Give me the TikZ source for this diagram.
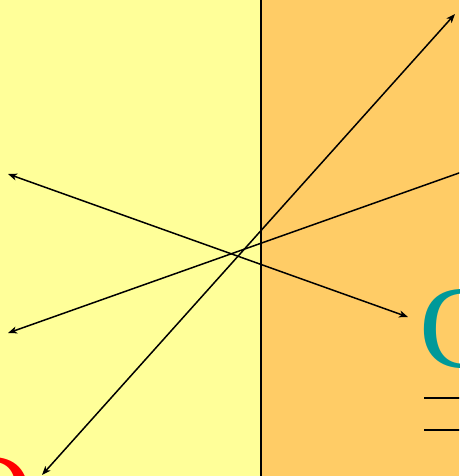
\documentclass[tikz,border=0pt]{standalone}
\usepackage{fontspec}
\setmainfont{Liberation Serif}
\usetikzlibrary{arrows.meta}
\definecolor{lyellow}{RGB}{255,255,153}
\definecolor{lorange}{RGB}{255,204,102}
\definecolor{teal2}{RGB}{0,153,153}
\begin{document}
\begin{tikzpicture}[x=1pt,y=-1pt,
  tip/.tip={Stealth[length=9pt,width=7pt,inset=2.5pt]},
  arr/.style={line width=1.5pt,tip-tip},
  plain/.style={line width=1.5pt},
  big/.style={inner sep=0pt,font=\fontsize{118}{118}\selectfont}]
\useasboundingbox (0,0) rectangle (459,476);
\clip (0,0) rectangle (459,476);
\fill[lyellow] (0,0) rectangle (260,476);
\fill[lorange] (260,0) rectangle (459,476);
\coordinate (vt) at (261,0);
\coordinate (vb) at (261,476);
\draw[line width=2pt] (vt) -- (vb);
\node[big,text=teal2,anchor=base west] (C) at (419,367) {C};
\node[big,text=red,anchor=base east] (O) at (34,535) {O};
\coordinate (h1a) at (424,398);
\coordinate (h1b) at (470,398);
\coordinate (h2a) at (424,430);
\coordinate (h2b) at (470,430);
\draw[plain] (h1a) -- (h1b);
\draw[plain] (h2a) -- (h2b);
\coordinate (a1) at (8,174);
\coordinate (b1) at (408,317);
\coordinate (a2) at (8,333);
\coordinate (b2) at (490,162);
\coordinate (a3) at (455,14);
\coordinate (b3) at (42,475);
\draw[arr] (a1) -- (b1);
\draw[line width=1.5pt,tip-] (a2) -- (b2);
\draw[arr] (a3) -- (b3);
\end{tikzpicture}
\end{document}
